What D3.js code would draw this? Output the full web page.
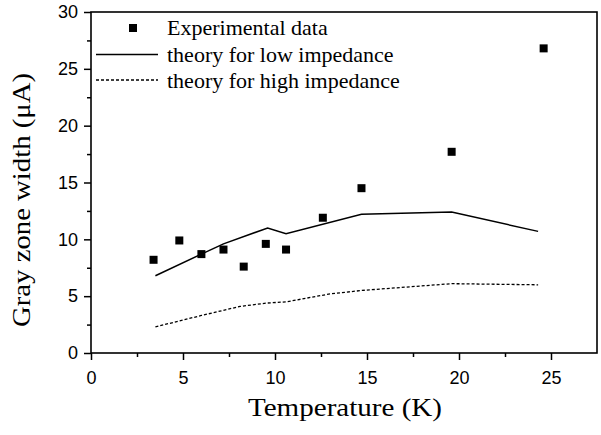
<!DOCTYPE html>
<html>
<head>
<meta charset="utf-8">
<script src="https://cdn.jsdelivr.net/npm/d3@7"></script>
<style>
  body { margin: 0; background: #fff; }
  svg { display: block; }
</style>
</head>
<body>
<div id="chart"></div>
<script>
// Data
const expTemp = [3.4, 4.8, 6.0, 7.2, 8.3, 9.5, 10.6, 12.6, 14.7, 19.6, 24.6];
const expWidth = [8.2, 9.9, 8.7, 9.1, 7.6, 9.6, 9.1, 11.9, 14.5, 17.7, 26.8];

const lowTemp = [3.5, 6.0, 7.2, 9.6, 10.6, 14.7, 19.6, 24.3];
const lowWidth = [6.8, 8.7, 9.6, 11.0, 10.5, 12.2, 12.4, 10.7];

const highTemp = [3.5, 6.0, 8.1, 9.6, 10.6, 13.0, 14.7, 19.6, 24.3];
const highWidth = [2.3, 3.3, 4.1, 4.4, 4.5, 5.2, 5.5, 6.1, 6.0];

const xMajor = [0, 5, 10, 15, 20, 25];
const xMinor = [2.5, 7.5, 12.5, 17.5, 22.5];
const yMajor = [0, 5, 10, 15, 20, 25, 30];
const yMinor = [2.5, 7.5, 12.5, 17.5, 22.5, 27.5];

const legendLabels = ['Experimental data', 'theory for low impedance', 'theory for high impedance'];

const width = 601, height = 435;
const margin = { top: 12, right: 4, bottom: 82, left: 91 };

const svg = d3.select('#chart').append('svg')
  .attr('width', width)
  .attr('height', height);

const x = d3.scaleLinear()
  .domain([0, 27.5])
  .range([margin.left, width - margin.right]);
const y = d3.scaleLinear()
  .domain([0, 30])
  .range([height - margin.bottom, margin.top]);

const serif = '"Liberation Serif", "Times New Roman", serif';
const sans = '"Liberation Sans", Arial, sans-serif';

// Axes (major with labels, minor without)
svg.append('g')
  .attr('transform', `translate(0,${y(0)})`)
  .call(d3.axisBottom(x).tickValues(xMajor).tickSize(7).tickPadding(11).tickFormat(d3.format('d')));
svg.append('g')
  .attr('transform', `translate(0,${y(0)})`)
  .call(d3.axisBottom(x).tickValues(xMinor).tickSize(4).tickFormat(''));

svg.append('g')
  .attr('transform', `translate(${x(0)},0)`)
  .call(d3.axisLeft(y).tickValues(yMajor).tickSize(7).tickPadding(6).tickFormat(d3.format('d')));
svg.append('g')
  .attr('transform', `translate(${x(0)},0)`)
  .call(d3.axisLeft(y).tickValues(yMinor).tickSize(4).tickFormat(''));

svg.selectAll('.domain').remove();
svg.selectAll('.tick line').attr('stroke', '#000').attr('stroke-width', 1.5);
svg.selectAll('.tick text')
  .attr('fill', '#000')
  .style('font-family', sans)
  .style('font-size', '18px');

// Frame
svg.append('rect')
  .attr('x', x(0))
  .attr('y', y(30))
  .attr('width', x(27.5) - x(0))
  .attr('height', y(0) - y(30))
  .attr('fill', 'none')
  .attr('stroke', '#000')
  .attr('stroke-width', 1.6);

// Theory lines
const line = d3.line().x(d => x(d[0])).y(d => y(d[1]));

svg.append('path')
  .datum(d3.zip(lowTemp, lowWidth))
  .attr('d', line)
  .attr('fill', 'none')
  .attr('stroke', '#000')
  .attr('stroke-width', 1.5);

svg.append('path')
  .datum(d3.zip(highTemp, highWidth))
  .attr('d', line)
  .attr('fill', 'none')
  .attr('stroke', '#000')
  .attr('stroke-width', 1.3)
  .attr('stroke-dasharray', '3,2');

// Experimental points
const sq = 8;
svg.append('g')
  .selectAll('rect')
  .data(d3.zip(expTemp, expWidth))
  .join('rect')
  .attr('x', d => x(d[0]) - sq / 2)
  .attr('y', d => y(d[1]) - sq / 2)
  .attr('width', sq)
  .attr('height', sq)
  .attr('fill', '#000');

// Legend
const legend = svg.append('g');
const rowY = [35, 61.5, 88];
legend.append('rect')
  .attr('x', 129).attr('y', rowY[0] - 11)
  .attr('width', sq).attr('height', sq)
  .attr('fill', '#000');
legend.append('line')
  .attr('x1', 96).attr('x2', 158)
  .attr('y1', rowY[1] - 7).attr('y2', rowY[1] - 7)
  .attr('stroke', '#000').attr('stroke-width', 1.5);
legend.append('line')
  .attr('x1', 96).attr('x2', 158)
  .attr('y1', rowY[2] - 8).attr('y2', rowY[2] - 8)
  .attr('stroke', '#000').attr('stroke-width', 1.3)
  .attr('stroke-dasharray', '3,2');
legend.selectAll('text')
  .data(legendLabels)
  .join('text')
  .attr('x', 167)
  .attr('y', (d, i) => rowY[i])
  .style('font-family', serif)
  .style('font-size', '22px')
  .text(d => d);

// Axis titles
svg.append('text')
  .attr('x', 345)
  .attr('y', 416)
  .attr('text-anchor', 'middle')
  .attr('textLength', 194)
  .attr('lengthAdjust', 'spacingAndGlyphs')
  .style('font-family', serif)
  .style('font-size', '26px')
  .text('Temperature (K)');

svg.append('text')
  .attr('transform', 'translate(30,200) rotate(-90)')
  .attr('text-anchor', 'middle')
  .attr('textLength', 254)
  .attr('lengthAdjust', 'spacingAndGlyphs')
  .style('font-family', serif)
  .style('font-size', '26px')
  .text('Gray zone width (μA)');
</script>
</body>
</html>
